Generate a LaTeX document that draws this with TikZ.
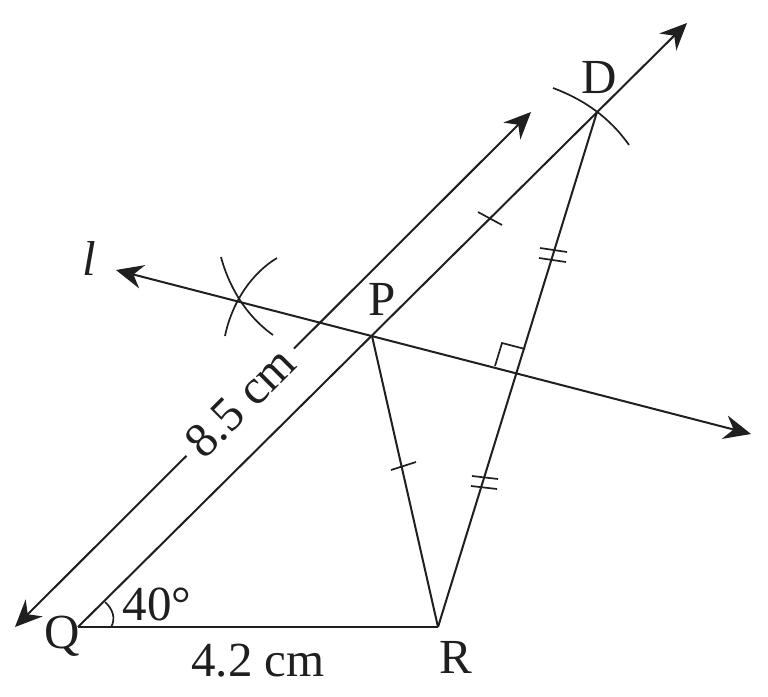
\documentclass[tikz,border=0pt]{standalone}
\usepackage{fontspec}
\setmainfont{Liberation Serif}
\usetikzlibrary{arrows.meta}

\begin{document}
\begin{tikzpicture}[x=1pt,y=-1pt,line width=2pt,draw=black!88,text=black!88,>={Stealth[length=27pt,width=24pt,inset=9pt]}]
	\tikzstyle{every node}=[font=\fontsize{49}{52}\selectfont]
	\tikzstyle{point}=[inner sep=0pt]
	\tikzstyle{tick}=[line width=1.7pt]
	\tikzstyle{measure}=[fill=white,inner xsep=9pt,inner ysep=0pt,sloped]
	\useasboundingbox (0,0) rectangle (768,696);
	
	\coordinate (Q) at (78,627);
	\coordinate (R) at (438,627);
	\coordinate (P) at (372,336);
	\coordinate (D) at (597,112);
	\coordinate (F) at (518,373);
	\coordinate (X) at (240,301);
	
	\coordinate (qend) at (15,627);
	\coordinate (mend) at (531,112);
	\coordinate (dend) at (687,23);
	\coordinate (lend) at (116,270);
	\coordinate (rend) at (751,434);
	
	\node[point] (q) at (62,636) {Q};
	\node[point] (r) at (456,657) {R};
	\node[point] (p) at (382,299) {P};
	\node[point] (d) at (599,78) {D};
	\node[point] (l) at (89,258) {\itshape l};
	\node[point] (a) at (157,604) {40\textdegree};
	\node[point] (b) at (258,661) {4.2 cm};
	
	\draw (Q) -- (R);
	\draw (R) -- (P);
	\draw (R) -- (D);
	\draw[->] (Q) -- (dend);
	\draw[<->] (lend) -- (rend);
	\draw[<->] (qend) -- node[measure,pos=0.4365] {8.5 cm} (mend);
	
	% arcs
	\draw[tick] (221,257) .. controls (227,280) and (242,313) .. (273,335);
	\draw[tick] (277,258) .. controls (252,273) and (232,302) .. (225,336);
	\draw[tick] (553,88) .. controls (585,100) and (610,118) .. (629,145);
	\draw[tick] (111,627) .. controls (116,619) and (113,609) .. (105,602);
	
	% right angle
	\draw[tick] (495,366) -- (502,343) -- (525,349);
	
	% equal marks
	\draw[tick] (478,212) -- (502,225);
	\draw[tick] (391,470) -- (416,462);
	\draw[tick] (540,248) -- (567,252);
	\draw[tick] (539,258) -- (566,262);
	\draw[tick] (472,476) -- (498,479);
	\draw[tick] (471,486) -- (497,489);
\end{tikzpicture}
\end{document}
